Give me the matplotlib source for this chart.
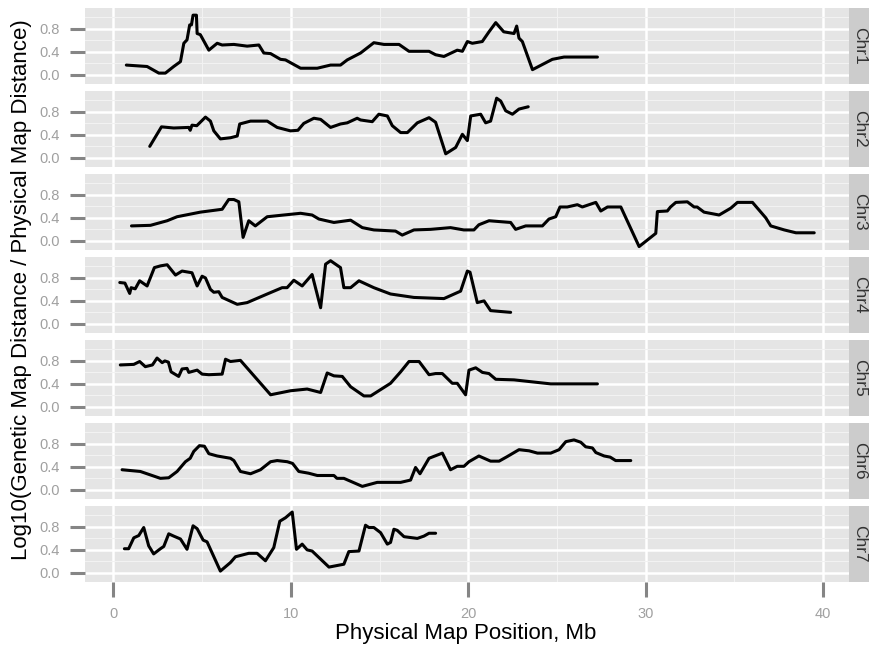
import matplotlib
matplotlib.use("Agg")
import matplotlib.pyplot as plt
from matplotlib.ticker import MultipleLocator

plt.rcParams['font.family'] = ['Liberation Sans', 'DejaVu Sans']

# data (x in Mb, y = log10 ratio)
chr_names = ["Chr1", "Chr2", "Chr3", "Chr4", "Chr5", "Chr6", "Chr7"]

chr1_x = [0.73, 1.9, 2.56, 2.93, 3.4, 3.78, 3.97, 4.15, 4.3, 4.4, 4.49, 4.68, 4.72, 4.9, 5.38, 5.85, 6.13,
          6.79, 7.54, 8.2, 8.48, 8.86, 9.42, 9.7, 10.55, 11.49, 12.24, 12.8, 13.18, 13.93, 14.68, 15.25,
          16.1, 16.66, 17.79, 18.16, 18.63, 19.38, 19.67, 19.95, 20.23, 20.79, 21.17, 21.55, 22.0, 22.58,
          22.73, 22.86, 23.05, 23.62, 24.74, 25.4, 27.28]
chr1_y = [0.17, 0.145, 0.03, 0.03, 0.145, 0.23, 0.55, 0.61, 0.87, 0.87, 1.04, 1.04, 0.72, 0.70, 0.43, 0.55, 0.52,
          0.53, 0.50, 0.52, 0.38, 0.37, 0.27, 0.26, 0.115, 0.115, 0.17, 0.17, 0.26, 0.38, 0.56, 0.53,
          0.53, 0.41, 0.41, 0.35, 0.32, 0.43, 0.41, 0.58, 0.55, 0.58, 0.75, 0.91, 0.75, 0.72,
          0.85, 0.64, 0.58, 0.09, 0.27, 0.31, 0.31]

chr2_x = [2.05, 2.71, 3.4, 4.25, 4.33, 4.43, 4.7, 5.19, 5.47, 5.66, 6.03, 6.6, 6.98, 7.12, 7.73, 8.67, 9.23,
          9.98, 10.4, 10.73, 11.3, 11.68, 12.24, 12.8, 13.18, 13.74, 13.93, 14.59, 14.96, 15.44, 15.72,
          16.19, 16.57, 17.13, 17.79, 18.16, 18.73, 19.29, 19.67, 19.95, 20.14, 20.7, 20.98, 21.26, 21.6,
          21.83, 22.11, 22.49, 22.86, 23.38]
chr2_y = [0.20, 0.54, 0.52, 0.53, 0.48, 0.57, 0.56, 0.71, 0.64, 0.47, 0.33, 0.35, 0.38, 0.59, 0.64, 0.64, 0.53,
          0.47, 0.48, 0.60, 0.69, 0.67, 0.53, 0.59, 0.61, 0.69, 0.66, 0.63, 0.76, 0.73, 0.56,
          0.44, 0.44, 0.61, 0.70, 0.62, 0.07, 0.18, 0.41, 0.30, 0.73, 0.76, 0.61, 0.64, 1.04,
          0.99, 0.82, 0.76, 0.85, 0.89]

chr3_x = [1.02, 2.09, 3.03, 3.59, 4.9, 6.13, 6.5, 6.79, 7.07, 7.31, 7.63, 8.0, 8.67, 9.6, 10.55, 11.2, 11.58,
          12.43, 13.37, 14.03, 14.68, 15.9, 16.28, 16.94, 17.88, 19.0, 19.75, 20.32, 20.6, 21.17, 22.39,
          22.67, 23.24, 24.18, 24.55, 24.93, 25.17, 25.58, 26.15, 26.43, 27.19, 27.47, 27.85, 28.6, 29.63,
          30.57, 30.66, 31.22, 31.4, 31.7, 32.35, 32.73, 32.9, 33.29, 34.14, 34.8, 35.17, 36.02, 36.77,
          37.05, 37.81, 38.47, 39.5]
chr3_y = [0.26, 0.27, 0.35, 0.42, 0.50, 0.55, 0.72, 0.72, 0.68, 0.06, 0.35, 0.26, 0.42, 0.45, 0.48, 0.45, 0.38,
          0.32, 0.36, 0.23, 0.19, 0.17, 0.10, 0.19, 0.20, 0.23, 0.19, 0.19, 0.28, 0.35, 0.32,
          0.20, 0.26, 0.26, 0.38, 0.42, 0.59, 0.59, 0.63, 0.59, 0.67, 0.52, 0.59, 0.59, -0.10,
          0.13, 0.51, 0.52, 0.59, 0.67, 0.68, 0.59, 0.59, 0.50, 0.45, 0.57, 0.67, 0.67, 0.40,
          0.26, 0.19, 0.14, 0.14]

chr4_x = [0.36, 0.65, 0.92, 1.0, 1.23, 1.48, 1.9, 2.31, 2.65, 3.03, 3.5, 3.87, 4.43, 4.72, 5.0, 5.19, 5.47,
          5.66, 5.94, 6.13, 6.98, 7.54, 8.67, 9.51, 9.79, 10.17, 10.64, 11.2, 11.68, 11.96, 12.24, 12.8,
          12.99, 13.37, 13.84, 14.68, 15.62, 16.94, 18.63, 19.57, 19.95, 20.1, 20.51, 20.89, 21.26, 22.39]
chr4_y = [0.72, 0.71, 0.53, 0.63, 0.61, 0.75, 0.66, 0.98, 1.01, 1.03, 0.85, 0.92, 0.89, 0.66, 0.83, 0.80, 0.60,
          0.55, 0.56, 0.46, 0.34, 0.37, 0.52, 0.63, 0.63, 0.76, 0.66, 0.86, 0.28, 1.04, 1.10, 0.98,
          0.63, 0.63, 0.75, 0.63, 0.52, 0.46, 0.44, 0.57, 0.92, 0.90, 0.37, 0.40, 0.23, 0.20]

chr5_x = [0.39, 1.15, 1.48, 1.8, 2.2, 2.46, 2.75, 2.9, 3.1, 3.25, 3.68, 3.87, 4.15, 4.25, 4.72, 5.0, 5.38,
          6.13, 6.32, 6.6, 7.16, 8.86, 9.98, 10.92, 11.68, 12.05, 12.43, 12.9, 13.37, 14.12, 14.5, 15.62,
          16.19, 16.66, 17.23, 17.79, 18.16, 18.54, 19.1, 19.38, 19.85, 20.04, 20.42, 20.8, 21.17, 21.55,
          22.58, 24.65, 27.28]
chr5_y = [0.73, 0.74, 0.79, 0.70, 0.73, 0.85, 0.77, 0.80, 0.78, 0.61, 0.53, 0.66, 0.67, 0.60, 0.64, 0.57, 0.56,
          0.57, 0.83, 0.79, 0.81, 0.21, 0.28, 0.31, 0.25, 0.59, 0.54, 0.53, 0.35, 0.19, 0.19, 0.41,
          0.61, 0.79, 0.79, 0.56, 0.58, 0.58, 0.41, 0.41, 0.21, 0.64, 0.68, 0.60, 0.58, 0.48,
          0.47, 0.40, 0.40]

chr6_x = [0.49, 1.52, 2.65, 3.12, 3.59, 4.06, 4.33, 4.53, 4.85, 5.13, 5.38, 5.85, 6.6, 6.79, 7.16, 7.73, 8.29,
          8.86, 9.23, 9.8, 10.1, 10.45, 11.0, 11.49, 12.43, 12.6, 12.99, 14.03, 14.87, 16.19, 16.75, 17.03,
          17.28, 17.79, 18.54, 19.0, 19.38, 19.76, 20.04, 20.6, 21.26, 21.74, 22.2, 22.86, 23.43, 23.9,
          24.65, 25.12, 25.5, 25.96, 26.34, 26.62, 27.0, 27.19, 27.66, 28.0, 28.31, 29.16]
chr6_y = [0.35, 0.32, 0.20, 0.21, 0.32, 0.49, 0.55, 0.67, 0.77, 0.76, 0.63, 0.59, 0.55, 0.51, 0.32, 0.28, 0.35,
          0.49, 0.51, 0.49, 0.46, 0.32, 0.29, 0.25, 0.25, 0.20, 0.20, 0.06, 0.13, 0.13, 0.17, 0.39,
          0.28, 0.55, 0.64, 0.35, 0.41, 0.41, 0.49, 0.59, 0.50, 0.50, 0.58, 0.70, 0.68, 0.64,
          0.64, 0.70, 0.84, 0.87, 0.83, 0.75, 0.73, 0.65, 0.59, 0.57, 0.51, 0.51]

chr7_x = [0.62, 0.86, 1.15, 1.43, 1.71, 1.99, 2.27, 2.65, 2.84, 3.12, 3.4, 3.78, 4.15, 4.49, 4.72, 5.06, 5.28,
          6.03, 6.6, 6.88, 7.63, 8.1, 8.57, 9.04, 9.38, 9.7, 10.08, 10.32, 10.64, 10.92, 11.2, 12.15,
          12.99, 13.27, 13.84, 14.21, 14.4, 14.68, 15.06, 15.44, 15.62, 15.81, 16.0, 16.38, 17.13, 17.5,
          17.79, 18.16]
chr7_y = [0.42, 0.42, 0.61, 0.65, 0.79, 0.47, 0.33, 0.42, 0.46, 0.68, 0.64, 0.59, 0.41, 0.82, 0.77, 0.57, 0.54,
          0.03, 0.18, 0.28, 0.34, 0.34, 0.21, 0.44, 0.90, 0.96, 1.06, 0.41, 0.50, 0.40, 0.38, 0.10,
          0.15, 0.37, 0.38, 0.83, 0.79, 0.79, 0.70, 0.50, 0.53, 0.76, 0.74, 0.63, 0.60, 0.64,
          0.69, 0.69]

xs = [chr1_x, chr2_x, chr3_x, chr4_x, chr5_x, chr6_x, chr7_x]
ys = [chr1_y, chr2_y, chr3_y, chr4_y, chr5_y, chr6_y, chr7_y]

W, H = 869, 647
fig = plt.figure(figsize=(W / 100, H / 100), dpi=100)

left, right = 85, 849
top0, panel_h, gap = 8, 76, 7
tick_col = '#858585'
lab_col = '#A0A0A0'

for i, name in enumerate(chr_names):
    top = top0 + i * (panel_h + gap)
    ax = fig.add_axes([left / W, 1 - (top + panel_h) / H, (right - left) / W, panel_h / H])
    ax.set_facecolor('#E5E5E5')
    ax.plot(xs[i], ys[i], color='black', lw=2.2, solid_joinstyle='round', solid_capstyle='round')
    ax.set_xlim(-1.6, 41.46)
    ax.set_ylim(-0.16, 1.165)
    ax.xaxis.set_major_locator(MultipleLocator(10))
    ax.xaxis.set_minor_locator(MultipleLocator(5))
    ax.set_yticks([0.0, 0.4, 0.8])
    ax.set_yticks([0.2, 0.6, 1.0], minor=True)
    ax.set_yticklabels(['0.0', '0.4', '0.8'])
    ax.grid(which='major', color='white', lw=1.8)
    ax.grid(which='minor', color='#F2F2F2', lw=0.8)
    ax.set_axisbelow(True)
    for s in ax.spines.values():
        s.set_visible(False)
    ax.tick_params(axis='both', which='minor', length=0)
    ax.tick_params(axis='y', which='major', length=11, width=2.2, color=tick_col,
                   labelcolor=lab_col, labelsize=10.5, pad=7)
    if i < len(chr_names) - 1:
        ax.tick_params(axis='x', which='major', length=0, labelbottom=False)
    else:
        ax.tick_params(axis='x', which='major', length=11, width=2.2, color=tick_col,
                       labelcolor=lab_col, labelsize=10.5, pad=7)

    # facet strip on the right
    sx = fig.add_axes([right / W, 1 - (top + panel_h) / H, (W - right) / W, panel_h / H])
    sx.set_facecolor('#CCCCCC')
    sx.set_xticks([])
    sx.set_yticks([])
    for s in sx.spines.values():
        s.set_visible(False)
    sx.text(0.55, 0.5, name, rotation=-90, ha='center', va='center',
            fontsize=12.5, color='#333333', transform=sx.transAxes)

fig.text(466 / W, 1 - 634 / H, 'Physical Map Position, Mb', ha='center', va='center', fontsize=16)
fig.text(22 / W, 1 - 290 / H, 'Log10(Genetic Map Distance / Physical Map Distance)',
         ha='center', va='center', rotation=90, fontsize=16)

fig.savefig('out.png', dpi=100)
